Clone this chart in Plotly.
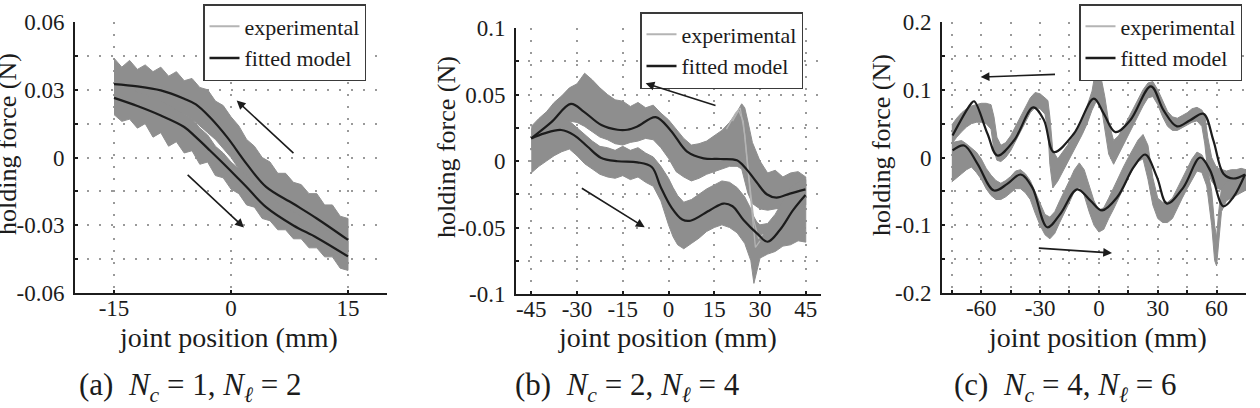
import plotly.graph_objects as go

# ======================= DATA =======================
# ---- panel (a): N_c = 1, N_l = 2 ----
A_X = [-15, -14, -13, -12, -11, -10, -9, -8, -7, -6, -5, -4, -3, -2, -1, 0,
       1, 2, 3, 4, 5, 6, 7, 8, 9, 10, 11, 12, 13, 14, 15]
A_RET_TOP = [0.044, 0.040, 0.043, 0.039, 0.041, 0.038, 0.040, 0.036, 0.038, 0.034, 0.035,
             0.031, 0.030, 0.025, 0.023, 0.018, 0.014, 0.008, 0.005, 0.000, -0.002, -0.007,
             -0.007, -0.011, -0.012, -0.016, -0.016, -0.021, -0.021, -0.026, -0.027]
A_RET_BOT = [0.027, 0.026, 0.026, 0.024, 0.025, 0.023, 0.023, 0.021, 0.020, 0.019, 0.017,
             0.014, 0.011, 0.008, 0.004, 0.000, -0.005, -0.009, -0.013, -0.017, -0.021, -0.023,
             -0.025, -0.027, -0.029, -0.031, -0.033, -0.035, -0.037, -0.039, -0.041]
A_FWD_TOP = [0.033, 0.032, 0.031, 0.029, 0.028, 0.026, 0.025, 0.023, 0.021, 0.019, 0.017,
             0.013, 0.010, 0.005, 0.002, -0.002, -0.005, -0.008, -0.011, -0.014, -0.017, -0.020,
             -0.022, -0.024, -0.026, -0.028, -0.030, -0.032, -0.033, -0.035, -0.037]
A_FWD_BOT = [0.019, 0.016, 0.017, 0.013, 0.015, 0.009, 0.011, 0.005, 0.007, 0.002, 0.003,
             -0.003, -0.002, -0.008, -0.009, -0.014, -0.016, -0.021, -0.022, -0.027, -0.028, -0.032,
             -0.032, -0.036, -0.036, -0.040, -0.040, -0.044, -0.044, -0.049, -0.050]
A_FIT_X = [-15, -12, -9, -6, -4.5, -2.7, -0.5, 2, 4.5, 8, 11, 15]
A_FIT_RET = [0.0325, 0.0315, 0.0297, 0.026, 0.0235, 0.0178, 0.009, -0.0028, -0.013, -0.0205, -0.027, -0.0365]
A_FIT_FWD = [0.0264, 0.0228, 0.0186, 0.0135, 0.009, 0.0031, -0.0043, -0.0131, -0.022, -0.0301, -0.0355, -0.0438]

# ---- panel (b): N_c = 2, N_l = 4 ----
B_RET_X = [-45, -42.5, -40, -37.5, -35, -32.5, -30, -27.5, -25, -22.5, -20, -17.5, -15, -12.5,
           -10, -7.5, -5, -2.5, 0, 2.5, 5, 7.5, 10, 12.5, 15, 17.5, 20, 22.5, 24, 25, 26, 27.5,
           30, 32.5, 35, 37.5, 40, 42.5, 45]
B_RET_TOP = [0.026, 0.032, 0.037, 0.044, 0.049, 0.055, 0.058, 0.066, 0.061, 0.055, 0.050, 0.046,
             0.045, 0.041, 0.044, 0.040, 0.042, 0.036, 0.031, 0.024, 0.017, 0.012, 0.013, 0.015,
             0.019, 0.023, 0.029, 0.037, 0.043, 0.040, 0.030, 0.014, 0.000, -0.009, -0.007,
             -0.012, -0.009, -0.008, -0.012]
B_RET_BOT = [0.008, 0.014, 0.020, 0.025, 0.027, 0.030, 0.029, 0.026, 0.022, 0.018, 0.016, 0.013,
             0.012, 0.014, 0.015, 0.017, 0.016, 0.010, 0.002, -0.008, -0.012, -0.015, -0.013,
             -0.010, -0.008, -0.006, -0.004, -0.004, -0.006, -0.014, -0.024, -0.032, -0.036,
             -0.037, -0.036, -0.035, -0.034, -0.033, -0.033]
B_FWD_X = [-45, -42.5, -40, -37.5, -35, -32.5, -30, -27.5, -25, -22.5, -20, -17.5, -15, -12.5,
           -10, -7.5, -5, -2.5, 0, 1.5, 3, 5, 7.5, 10, 12.5, 15, 17.5, 20, 22.5, 25, 27, 28, 29,
           30, 32.5, 35, 37.5, 40, 42.5, 45]
B_FWD_TOP = [0.024, 0.027, 0.030, 0.033, 0.034, 0.030, 0.025, 0.020, 0.015, 0.011, 0.010, 0.008,
             0.011, 0.008, 0.010, 0.006, 0.003, -0.004, -0.013, -0.020, -0.026, -0.031, -0.029,
             -0.025, -0.021, -0.018, -0.015, -0.016, -0.020, -0.027, -0.036, -0.042, -0.046,
             -0.048, -0.047, -0.040, -0.030, -0.020, -0.016, -0.014]
B_FWD_BOT = [-0.009, -0.004, 0.000, 0.004, 0.007, 0.009, 0.004, -0.002, -0.006, -0.010, -0.012,
             -0.013, -0.011, -0.014, -0.012, -0.016, -0.019, -0.030, -0.048, -0.057, -0.063,
             -0.066, -0.062, -0.058, -0.053, -0.050, -0.048, -0.050, -0.054, -0.062, -0.075,
             -0.092, -0.082, -0.073, -0.070, -0.068, -0.064, -0.063, -0.060, -0.061]
B_RUN1_X = [19, 22, 23.5, 25, 26.5, 28, 29.5, 31]
B_RUN1_Y = [0.024, 0.036, 0.040, 0.020, -0.015, -0.045, -0.058, -0.055]
B_RUN2_X = [21, 23, 24.5, 26, 27.5, 28.5, 30]
B_RUN2_Y = [0.030, 0.038, 0.030, -0.005, -0.040, -0.065, -0.060]
B_FIT_RET_X = [-45, -38.5, -32, -27.7, -22, -16.7, -13.5, -10.2, -4.2, 0.7, 6.1, 11.5, 17, 22.4,
               25.5, 28.9, 32.2, 35.4, 39.8, 44.9]
B_FIT_RET_Y = [0.017, 0.029, 0.043, 0.037, 0.027, 0.0235, 0.0235, 0.026, 0.033, 0.023, 0.007,
               0.002, 0.0015, 0.0005, -0.006, -0.016, -0.025, -0.0275, -0.0245, -0.0213]
B_FIT_FWD_X = [-45, -40.7, -35.2, -31, -26.5, -22.2, -16.7, -10.2, -5.5, -2.6, 1, 4.5, 7.2, 13.7,
               18, 21, 24.6, 29, 32.5, 36.5, 40.9, 44.9]
B_FIT_FWD_Y = [0.017, 0.0208, 0.0233, 0.0195, 0.0107, 0.0025, -0.0002, -0.001, -0.0045, -0.0193,
               -0.035, -0.044, -0.0449, -0.0368, -0.032, -0.034, -0.0444, -0.0544, -0.0607,
               -0.0519, -0.0368, -0.0256]

# ---- panel (c): N_c = 4, N_l = 6 ----
C_RET_X = [-75, -72.5, -70, -67.5, -65, -62.5, -60, -57.5, -55, -53.5, -52, -50, -47.5, -45,
           -42.5, -40, -37.5, -35, -32.5, -30, -27.5, -26, -25, -23.5, -21, -18.5, -16, -13.5,
           -11, -8.5, -6, -3.5, -1.5, 0, 1.5, 3, 5, 7.5, 10, 12.5, 15, 17.5, 20, 22.5, 25, 27.5,
           30, 32.5, 35, 37.5, 40, 42.5, 45, 47.5, 50, 52.5, 54, 55.5, 57.5, 60, 62.5, 65, 67.5,
           70, 72.5, 75]
C_RET_TOP = [0.048, 0.058, 0.066, 0.072, 0.076, 0.078, 0.080, 0.080, 0.078, 0.060, 0.030, 0.018,
             0.022, 0.032, 0.046, 0.060, 0.074, 0.088, 0.096, 0.094, 0.088, 0.084, 0.060, 0.010,
             -0.002, 0.008, 0.018, 0.030, 0.042, 0.058, 0.076, 0.098, 0.132, 0.125, 0.112, 0.090,
             0.052, 0.025, 0.032, 0.044, 0.058, 0.072, 0.086, 0.100, 0.110, 0.112, 0.100, 0.084,
             0.068, 0.060, 0.058, 0.062, 0.066, 0.072, 0.074, 0.070, 0.062, 0.030, 0.000, -0.015,
             -0.018, -0.020, -0.018, -0.018, -0.016, -0.018]
C_RET_BOT = [0.020, 0.030, 0.038, 0.045, 0.050, 0.052, 0.052, 0.050, 0.042, 0.010, -0.004, -0.006,
             0.000, 0.010, 0.024, 0.038, 0.052, 0.066, 0.074, 0.072, 0.064, 0.040, -0.010, -0.045,
             -0.035, -0.020, -0.006, 0.008, 0.020, 0.034, 0.050, 0.070, 0.082, 0.082, 0.070, 0.045,
             0.005, -0.010, 0.004, 0.020, 0.034, 0.048, 0.062, 0.076, 0.088, 0.090, 0.078, 0.060,
             0.046, 0.040, 0.040, 0.044, 0.048, 0.052, 0.054, 0.046, 0.020, -0.020, -0.035, -0.045,
             -0.048, -0.050, -0.050, -0.052, -0.050, -0.048]
C_FWD_X = [-75, -72.5, -70, -67.5, -65, -62.5, -60, -57.5, -55, -52.5, -50, -47.5, -45, -42.5,
           -40, -37.5, -35, -32.5, -30, -27.5, -25, -22.5, -20, -17.5, -15, -12.5, -10, -7.5, -5,
           -2.5, 0, 2.5, 5, 7.5, 10, 12.5, 15, 17.5, 20, 22.5, 25, 27.5, 30, 32.5, 35, 37.5, 40,
           42.5, 45, 47.5, 50, 52.5, 55, 57.5, 59, 60, 61, 62.5, 65, 67.5, 70, 72.5, 75]
C_FWD_TOP = [0.022, 0.024, 0.025, 0.020, 0.014, 0.008, -0.002, -0.016, -0.026, -0.034, -0.038,
             -0.034, -0.028, -0.020, -0.018, -0.024, -0.034, -0.050, -0.068, -0.084, -0.088,
             -0.080, -0.064, -0.050, -0.034, -0.018, -0.008, -0.018, -0.040, -0.064, -0.078,
             -0.074, -0.060, -0.044, -0.028, -0.014, 0.000, 0.014, 0.026, 0.034, 0.018, -0.030,
             -0.060, -0.066, -0.066, -0.060, -0.046, -0.030, -0.016, -0.002, 0.008, 0.004, -0.010,
             -0.050, -0.100, -0.118, -0.082, -0.045, -0.036, -0.032, -0.028, -0.024, -0.020]
C_FWD_BOT = [-0.036, -0.030, -0.024, -0.018, -0.014, -0.022, -0.032, -0.046, -0.056, -0.062,
             -0.062, -0.058, -0.052, -0.046, -0.046, -0.052, -0.062, -0.082, -0.100, -0.114,
             -0.120, -0.112, -0.096, -0.080, -0.066, -0.050, -0.044, -0.056, -0.080, -0.100,
             -0.110, -0.106, -0.090, -0.076, -0.060, -0.046, -0.030, -0.016, -0.006, -0.002,
             -0.032, -0.070, -0.090, -0.096, -0.096, -0.090, -0.076, -0.060, -0.046, -0.032,
             -0.020, -0.022, -0.042, -0.100, -0.152, -0.160, -0.132, -0.080, -0.064, -0.060,
             -0.056, -0.052, -0.048]
C_FIT_RET_X = [-74.6, -65.3, -63.6, -56.8, -51.8, -43.3, -33.5, -28, -23, -12.8, -2.6, 2.4, 8.4,
               16, 26.5, 33, 39.8, 46.5, 53.3, 58.4, 63.5, 68.5, 74.5]
C_FIT_RET_Y = [0.0325, 0.079, 0.083, 0.035, 0.003, 0.025, 0.074, 0.055, 0.008, 0.035, 0.0868,
               0.065, 0.0375, 0.055, 0.105, 0.0695, 0.046, 0.055, 0.0645, 0.025, -0.024, -0.031,
               -0.025]
C_FIT_FWD_X = [-74.6, -68.7, -61.9, -53.5, -46.7, -39.9, -34, -26.3, -19.6, -11.1, -4.3, 1.6,
               9.3, 17.7, 23.6, 29.6, 34.7, 43.1, 51.6, 56.7, 63.5, 68.5, 74.5]
C_FIT_FWD_Y = [0.0104, 0.0178, -0.0093, -0.0488, -0.039, -0.0251, -0.044, -0.103, -0.083, -0.0470,
               -0.0636, -0.078, -0.0587, -0.0143, 0.0044, -0.029, -0.068, -0.044, 0.0, -0.019,
               -0.072, -0.0587, -0.025]

CAPTIONS = [
    "(a)&nbsp;&nbsp;<i>N<sub>c</sub></i>&nbsp;=&nbsp;1,&nbsp;<i>N<sub>ℓ</sub></i>&nbsp;=&nbsp;2",
    "(b)&nbsp;&nbsp;<i>N<sub>c</sub></i>&nbsp;=&nbsp;2,&nbsp;<i>N<sub>ℓ</sub></i>&nbsp;=&nbsp;4",
    "(c)&nbsp;&nbsp;<i>N<sub>c</sub></i>&nbsp;=&nbsp;4,&nbsp;<i>N<sub>ℓ</sub></i>&nbsp;=&nbsp;6"]
X_TITLE = "joint position (mm)"
Y_TITLE = "holding force (N)"
LEGEND_NAMES = ["experimental", "fitted model"]

A_XTICKS = [-15, 0, 15]
B_XTICKS = [-45, -30, -15, 0, 15, 30, 45]
C_XTICKS = [-60, -30, 0, 30, 60]
A_YTICKS = [-0.06, -0.03, 0, 0.03, 0.06]
B_YTICKS = [-0.1, -0.05, 0, 0.05, 0.1]
C_YTICKS = [-0.2, -0.1, 0, 0.1, 0.2]

# ======================= STYLE / LAYOUT =======================
W, H = 1260, 408
FONT = "'Liberation Serif', 'Times New Roman', 'DejaVu Serif', serif"
INK = "#1c1c1c"
BAND = "#8e8e8e"
LIGHT = "#b4b4b4"
GRID = "#9a9a9a"
DASH = "2px,10px"


def px_x(p):
    return p / W


def px_y(p):
    return 1 - p / H


PANELS = [
    dict(dx=(75, 387), dy=(22, 293), xr=[-20, 20], yr=[-0.06, 0.06], xt=A_XTICKS, yt=A_YTICKS,
         ymin=0.015, xmin=None),
    dict(dx=(516, 821), dy=(28, 294), xr=[-50, 50], yr=[-0.1, 0.1], xt=B_XTICKS, yt=B_YTICKS,
         ymin=0.025, xmin=None),
    dict(dx=(942, 1246), dy=(22, 293), xr=[-80, 75], yr=[-0.2, 0.2], xt=C_XTICKS, yt=C_YTICKS,
         ymin=0.05, xmin=15),
]


def fmt(v):
    return "%g" % v


fig = go.Figure()


def band(xs, top, bot, ax):
    fig.add_trace(go.Scatter(x=list(xs) + list(xs)[::-1], y=list(top) + list(bot)[::-1],
                             fill="toself", fillcolor=BAND, mode="lines",
                             line=dict(color=BAND, width=1), hoverinfo="skip",
                             showlegend=False, xaxis="x" + ax, yaxis="y" + ax))


def fit(xs, ys, ax):
    fig.add_trace(go.Scatter(x=xs, y=ys, mode="lines",
                             line=dict(color=INK, width=2.2, shape="spline", smoothing=1.0),
                             showlegend=False, xaxis="x" + ax, yaxis="y" + ax))


def run(xs, ys, ax):
    fig.add_trace(go.Scatter(x=xs, y=ys, mode="lines", line=dict(color=LIGHT, width=1.3),
                             showlegend=False, xaxis="x" + ax, yaxis="y" + ax))


band(A_X, A_RET_TOP, A_RET_BOT, "")
band(A_X, A_FWD_TOP, A_FWD_BOT, "")
fit(A_FIT_X, A_FIT_RET, "")
fit(A_FIT_X, A_FIT_FWD, "")
band(B_RET_X, B_RET_TOP, B_RET_BOT, "2")
band(B_FWD_X, B_FWD_TOP, B_FWD_BOT, "2")
run(B_RUN1_X, B_RUN1_Y, "2")
run(B_RUN2_X, B_RUN2_Y, "2")
fit(B_FIT_RET_X, B_FIT_RET_Y, "2")
fit(B_FIT_FWD_X, B_FIT_FWD_Y, "2")
band(C_RET_X, C_RET_TOP, C_RET_BOT, "3")
band(C_FWD_X, C_FWD_TOP, C_FWD_BOT, "3")
fit(C_FIT_RET_X, C_FIT_RET_Y, "3")
fit(C_FIT_FWD_X, C_FIT_FWD_Y, "3")

for i, ax in enumerate(["", "2", "3"]):
    lg = "legend" + ax
    fig.add_trace(go.Scatter(x=[None], y=[None], mode="lines", name=LEGEND_NAMES[0],
                             line=dict(color=LIGHT, width=2), legend=lg,
                             xaxis="x" + ax, yaxis="y" + ax))
    fig.add_trace(go.Scatter(x=[None], y=[None], mode="lines", name=LEGEND_NAMES[1],
                             line=dict(color=INK, width=2.5), legend=lg,
                             xaxis="x" + ax, yaxis="y" + ax))

layout = dict(template="none", width=W, height=H, autosize=False,
              margin=dict(l=0, r=0, t=0, b=0, pad=0, autoexpand=False),
              paper_bgcolor="white", plot_bgcolor="white", showlegend=True,
              font=dict(family=FONT, color=INK, size=23))

LEG_POS = [(203, 4), (640, 12), (1079, 4)]
for i, p in enumerate(PANELS):
    ax = "" if i == 0 else str(i + 1)
    common = dict(showline=True, linecolor=INK, linewidth=2, ticks="inside", ticklen=3,
                  tickwidth=2, tickcolor=INK, showgrid=True, gridcolor=GRID, gridwidth=1.5,
                  griddash=DASH, zeroline=False, fixedrange=True, automargin=False,
                  tickfont=dict(family=FONT, size=23, color=INK))
    yminor = dict(tickmode="linear", tick0=0, dtick=p["ymin"], showgrid=True, gridcolor=GRID,
                  gridwidth=1.5, griddash=DASH, ticks="inside", ticklen=3, tickwidth=2,
                  tickcolor=INK)
    layout["yaxis" + ax] = dict(domain=[px_y(p["dy"][1]), px_y(p["dy"][0])], range=p["yr"],
                                anchor="x" + ax, tickmode="array", tickvals=p["yt"],
                                ticktext=[fmt(v) for v in p["yt"]], minor=yminor,
                                ticklabelstandoff=4, **common)
    xaxis = dict(domain=[px_x(p["dx"][0]), px_x(p["dx"][1])], range=p["xr"], anchor="y" + ax,
                 tickmode="array", tickvals=p["xt"], ticktext=[fmt(v) for v in p["xt"]],
                 ticklabelstandoff=-7, **common)
    if p["xmin"]:
        xaxis["minor"] = dict(tickmode="linear", tick0=0, dtick=p["xmin"], showgrid=True,
                              gridcolor=GRID, gridwidth=1.5, griddash=DASH, ticks="inside",
                              ticklen=3, tickwidth=2, tickcolor=INK)
    layout["xaxis" + ax] = xaxis
    lx, ly = LEG_POS[i]
    layout["legend" + ax] = dict(x=px_x(lx), y=px_y(ly), xanchor="left", yanchor="top",
                                 bgcolor="white", bordercolor="#3a3a3a", borderwidth=1.5,
                                 font=dict(family=FONT, size=22, color=INK), itemwidth=30,
                                 tracegroupgap=0)

fig.update_layout(**layout)

ARROWS = [("", 0.73, 0.0252, 8.2, 0.0013), ("", 1.66, -0.031, -5.75, -0.0071),
          ("2", -7.5, 0.0584, 15.9, 0.0414), ("2", -7.8, -0.0499, -28.9, -0.0198),
          ("3", -60.3, 0.1188, -21.6, 0.1228), ("3", 6.7, -0.141, -31.4, -0.1336)]
for ax, hx, hy, tx, ty in ARROWS:
    fig.add_annotation(xref="x" + ax, yref="y" + ax, axref="x" + ax, ayref="y" + ax,
                       x=hx, y=hy, ax=tx, ay=ty, text="", showarrow=True, arrowhead=2,
                       arrowsize=1.1, arrowwidth=1.6, arrowcolor=INK)

YT_POS = [(7, 144), (446, 147), (881, 145)]
XT_POS = [(228, 337), (667, 337), (1097, 337)]
CAP_POS = [(190, 387), (627, 387), (1065, 387)]
for i in range(3):
    fig.add_annotation(xref="paper", yref="paper", x=px_x(YT_POS[i][0]), y=px_y(YT_POS[i][1]),
                       text=Y_TITLE, textangle=-90, showarrow=False, xanchor="center",
                       yanchor="middle", font=dict(family=FONT, size=26, color=INK))
    fig.add_annotation(xref="paper", yref="paper", x=px_x(XT_POS[i][0]), y=px_y(XT_POS[i][1]),
                       text=X_TITLE, showarrow=False, xanchor="center", yanchor="middle",
                       font=dict(family=FONT, size=28, color=INK))
    fig.add_annotation(xref="paper", yref="paper", x=px_x(CAP_POS[i][0]), y=px_y(CAP_POS[i][1]),
                       text=CAPTIONS[i], showarrow=False, xanchor="center", yanchor="middle",
                       font=dict(family=FONT, size=31, color=INK))

fig.write_html("out.html")
